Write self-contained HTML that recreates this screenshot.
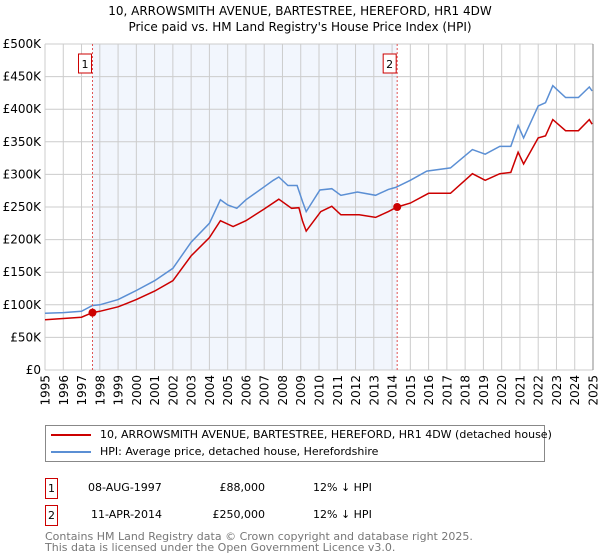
<!DOCTYPE html>
<html><head><meta charset="utf-8"><style>
body{margin:0;background:#fff;font-family:"DejaVu Sans","Liberation Sans",sans-serif;}
#wrap{position:relative;width:600px;height:560px;overflow:hidden;}
.t{position:absolute;font-size:11px;line-height:14px;color:#000;white-space:nowrap;}
</style></head><body><div id="wrap">
<div class="t" style="left:0;width:600px;text-align:center;top:3px;font-size:12px;line-height:16px">10, ARROWSMITH AVENUE, BARTESTREE, HEREFORD, HR1 4DW<br>Price paid vs. HM Land Registry's House Price Index (HPI)</div>
<svg id="chart" width="600" height="420" style="position:absolute;left:0;top:0"></svg>
<div style="position:absolute;left:45px;top:425px;width:498px;height:35px;border:1px solid #888;">
<div style="position:absolute;left:5px;top:2px;height:14px;white-space:nowrap;font-size:11px;line-height:14px"><span style="display:inline-block;width:40px;height:2px;background:#cc0000;vertical-align:middle;margin-right:9px"></span><span>10, ARROWSMITH AVENUE, BARTESTREE, HEREFORD, HR1 4DW (detached house)</span></div>
<div style="position:absolute;left:5px;top:19px;height:14px;white-space:nowrap;font-size:11px;line-height:14px"><span style="display:inline-block;width:40px;height:2px;background:#5b8fd4;vertical-align:middle;margin-right:9px"></span><span>HPI: Average price, detached house, Herefordshire</span></div>
</div>
<div>
<div class="t" style="left:45px;top:478px;width:11px;height:19px;border:1px solid #cc0000;text-align:center;line-height:19px">1</div>
<div class="t" style="left:88px;top:481px">08-AUG-1997</div>
<div class="t" style="left:185px;width:80px;text-align:right;top:481px">£88,000</div>
<div class="t" style="left:313px;top:481px">12% ↓ HPI</div>
</div>
<div>
<div class="t" style="left:45px;top:505px;width:11px;height:19px;border:1px solid #cc0000;text-align:center;line-height:19px">2</div>
<div class="t" style="left:91px;top:508px">11-APR-2014</div>
<div class="t" style="left:185px;width:80px;text-align:right;top:508px">£250,000</div>
<div class="t" style="left:313px;top:508px">12% ↓ HPI</div>
</div>
<div class="t" style="left:45px;top:531px;line-height:11px;color:#777">Contains HM Land Registry data © Crown copyright and database right 2025.<br>This data is licensed under the Open Government Licence v3.0.</div>
</div>
<script>
const hpiYears=[1995,1996,1997,1997.6,1998,1999,2000,2001,2002,2003,2004,2004.6,2005,2005.5,2006,2007,2007.5,2007.8,2008.3,2008.8,2009.1,2009.3,2010.05,2010.7,2011.2,2012.1,2013.1,2013.8,2014.2,2015,2015.9,2017.2,2018.4,2019.1,2019.9,2020.5,2020.9,2021.2,2022,2022.4,2022.8,2023.5,2024.2,2024.8,2024.95];
const hpiValues=[87,88,90,99,100,108,122,137,156,196,225,261,253,248,261,281,291,296,283,283,258,243,276,278,268,273,268,277,280,291,305,310,338,331,343,343,375,356,405,410,436,418,418,434,428];
const priceYears=[1995,1996,1997,1997.6,1998,1999,2000,2001,2002,2003,2004,2004.6,2005.3,2006,2007,2007.8,2008.5,2008.9,2009.1,2009.3,2010.1,2010.7,2011.2,2012.2,2013.1,2013.8,2014.28,2015,2016,2017.2,2018.4,2019.1,2019.9,2020.5,2020.9,2021.2,2022,2022.4,2022.8,2023.5,2024.2,2024.8,2024.95];
const priceValues=[77,79,81,88,90,97,108,121,137,175,203,229,220,229,247,262,248,249,228,213,243,251,238,238,234,243,250,256,271,271,301,291,301,303,334,316,356,359,384,367,367,384,377];
const saleYears=[1997.6,2014.28];
const saleValues=[88,250];
const saleLabels=["1","2"];
const yTicks=[0,50,100,150,200,250,300,350,400,450,500];
const yTickLabels=["£0","£50K","£100K","£150K","£200K","£250K","£300K","£350K","£400K","£450K","£500K"];
const xTicks=[1995,1996,1997,1998,1999,2000,2001,2002,2003,2004,2005,2006,2007,2008,2009,2010,2011,2012,2013,2014,2015,2016,2017,2018,2019,2020,2021,2022,2023,2024,2025];

const svg=document.getElementById('chart');const NS='http://www.w3.org/2000/svg';
const L=45,R=593,T=44,B=370;
const FF='DejaVu Sans, Liberation Sans, sans-serif';
const x=y=>L+(y-1995)/30*(R-L);
const yv=v=>B-v/500*(B-T);
function mk(tag,attrs,parent){const e=document.createElementNS(NS,tag);for(const k in attrs)e.setAttribute(k,attrs[k]);(parent||svg).appendChild(e);return e;}
let e=mk('rect',{x:x(saleYears[0]),y:T,width:x(saleYears[1])-x(saleYears[0]),height:B-T,fill:'#eef3fc',opacity:0.75});


xTicks.forEach((t,i)=>{
 const g=mk('line',{x1:x(t),x2:x(t),y1:T,y2:B,stroke:'#cccccc','stroke-width':1});
 
 
 const tx=mk('text',{x:0,y:0,transform:`translate(${x(t)+4.5},${B+5}) rotate(-90)`,'text-anchor':'end','font-size':'12','font-family':FF});
 tx.textContent=t;
 
 
});
yTicks.forEach((t,i)=>{
 const g=mk('line',{x1:L,x2:R,y1:yv(t),y2:yv(t),stroke:'#cccccc','stroke-width':1});
 
 
 const tx=mk('text',{x:L-4,y:yv(t)+4,'text-anchor':'end','font-size':'12','font-family':FF});
 tx.textContent=yTickLabels[i];
 
 
});
e=mk('line',{x1:R,x2:R,y1:T,y2:B,stroke:'#888','stroke-width':1});


function path(xs,vs){return xs.map((t,i)=>(i?'L':'M')+x(t).toFixed(1)+','+yv(vs[i]).toFixed(1)).join(' ');}
e=mk('path',{d:path(hpiYears,hpiValues),fill:'none',stroke:'#5b8fd4','stroke-width':1.5});


e=mk('path',{d:path(priceYears,priceValues),fill:'none',stroke:'#cc0000','stroke-width':1.5});


saleYears.forEach((s,i)=>{
 const l=mk('line',{x1:x(s),x2:x(s),y1:T,y2:B,stroke:'#e05555','stroke-width':1,'stroke-dasharray':'2,2'});
 
 
 const c=mk('circle',{cx:x(s),cy:yv(saleValues[i]),r:4,fill:'#cc0000'});
 
 
 const r=mk('rect',{x:x(s)-14,y:54,width:13,height:19,fill:'#fff',stroke:'#cc0000','stroke-width':1});
 
 
 const tx=mk('text',{x:x(s)-7.5,y:68,'text-anchor':'middle','font-size':'11','font-family':FF});
 tx.textContent=saleLabels[i];
 
 
});
</script>
</body></html>
